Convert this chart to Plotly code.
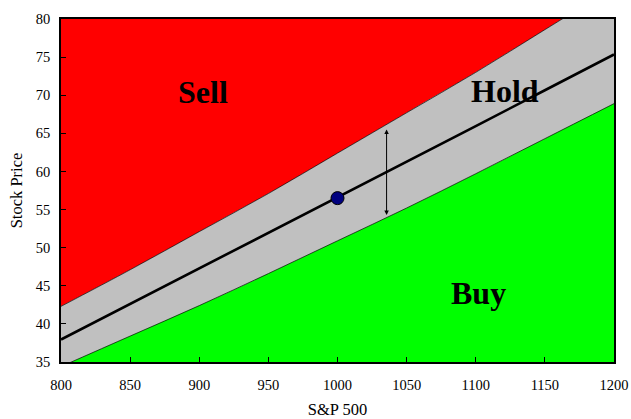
import plotly.graph_objects as go

# Data
sp500 = [800, 850, 900, 950, 1000, 1050, 1100, 1150, 1200]
fair_price = [37.95, 42.6, 47.3, 51.95, 56.6, 61.3, 65.95, 70.65, 75.35]
sell_boundary = [42.3, 47.1, 52.1, 57.1, 62.4, 67.7, 73.0, 78.6, 84.2]
buy_boundary = [34.4, 38.4, 42.4, 46.6, 50.9, 55.2, 59.7, 64.3, 68.9]
top_limit = [90] * len(sp500)
bottom_limit = [30] * len(sp500)

current_sp = [1000]
current_price = [56.5]

arrow_x = 1035.5
arrow_top = 65.5
arrow_bottom = 54.1

labels = ["Sell", "Hold", "Buy"]
label_x = [903, 1121, 1102]
label_y = [70.4, 70.6, 44.1]

x_ticks = [800, 850, 900, 950, 1000, 1050, 1100, 1150, 1200]
y_ticks = [35, 40, 45, 50, 55, 60, 65, 70, 75, 80]

FONT = "Liberation Serif"

fig = go.Figure()
fig.add_trace(go.Scatter(x=sp500, y=top_limit, mode="lines", line=dict(width=0),
                         hoverinfo="skip", showlegend=False))
fig.add_trace(go.Scatter(x=sp500, y=sell_boundary, mode="lines", fill="tonexty",
                         fillcolor="#FF0000", line=dict(color="black", width=0.7, shape="spline"),
                         showlegend=False))
fig.add_trace(go.Scatter(x=sp500, y=buy_boundary, mode="lines", fill="tonexty",
                         fillcolor="#C0C0C0", line=dict(color="black", width=0.7, shape="spline"),
                         showlegend=False))
fig.add_trace(go.Scatter(x=sp500, y=bottom_limit, mode="lines", fill="tonexty",
                         fillcolor="#00FF00", line=dict(width=0),
                         hoverinfo="skip", showlegend=False))
fig.add_trace(go.Scatter(x=sp500, y=fair_price, mode="lines",
                         line=dict(color="black", width=2.6), showlegend=False))
fig.add_trace(go.Scatter(x=current_sp, y=current_price, mode="markers",
                         marker=dict(size=13, color="#00007F",
                                     line=dict(color="black", width=1)),
                         showlegend=False))

fig.add_annotation(x=arrow_x, y=arrow_top, ax=arrow_x, ay=arrow_bottom,
                   xref="x", yref="y", axref="x", ayref="y",
                   showarrow=True, arrowhead=2, startarrowhead=2,
                   arrowside="end+start", arrowsize=0.9, arrowwidth=1,
                   arrowcolor="black", text="")

for t, lx, ly in zip(labels, label_x, label_y):
    fig.add_annotation(x=lx, y=ly, xref="x", yref="y", text="<b>%s</b>" % t,
                       showarrow=False,
                       font=dict(family=FONT, size=32, color="black"))

fig.update_layout(
    width=631, height=419,
    margin=dict(l=61, r=17, t=19, b=57),
    paper_bgcolor="white", plot_bgcolor="white",
    font=dict(family=FONT, size=14, color="black"),
    xaxis=dict(range=[800, 1200], tickvals=x_ticks, ticks="inside", ticklen=5,
               tickcolor="black", showline=True, linecolor="black", linewidth=1.5,
               mirror=True, showgrid=False, zeroline=False, automargin=False,
               ticklabelstandoff=9,
               title=dict(text="S&P 500", font=dict(family=FONT, size=16.5, color="black"), standoff=11),
               tickfont=dict(family=FONT, size=14.5, color="black")),
    yaxis=dict(range=[35, 80], tickvals=y_ticks, ticks="inside", ticklen=5,
               tickcolor="black", showline=True, linecolor="black", linewidth=1.5,
               mirror=True, showgrid=False, zeroline=False, automargin=False,
               ticklabelstandoff=6,
               title=dict(text="Stock Price", font=dict(family=FONT, size=16.5, color="black"), standoff=9),
               tickfont=dict(family=FONT, size=14.5, color="black")),
)

# remove the default 8px page margin so the 631x419 figure fills the window exactly
fig.write_html("out.html", config={"displayModeBar": False},
               post_script="document.body.style.margin='0';document.body.style.overflow='hidden';")
